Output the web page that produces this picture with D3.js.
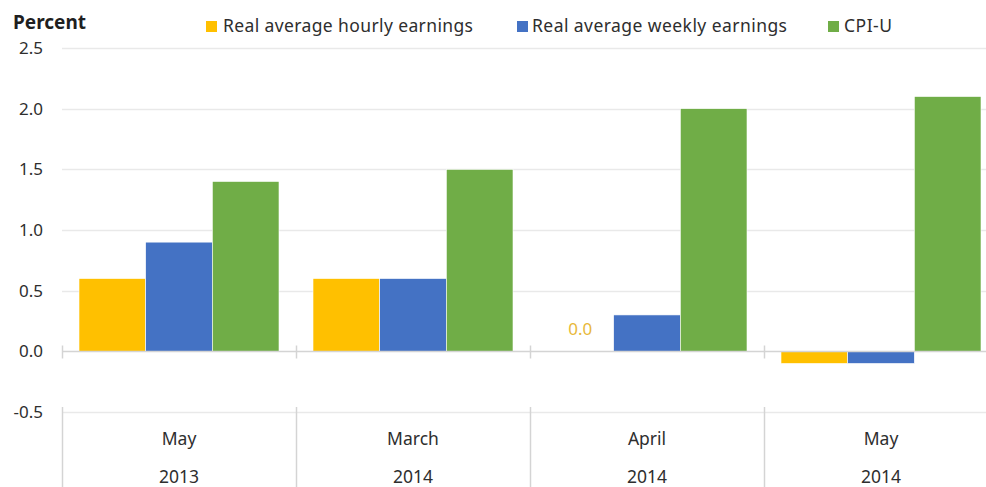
<!DOCTYPE html>
<html>
<head>
<meta charset="utf-8">
<script src="https://cdn.jsdelivr.net/npm/d3@7/dist/d3.min.js"></script>
<style>
  html, body { margin: 0; padding: 0; background: #fff; }
  svg { display: block; font-family: "Noto Sans", "Open Sans", sans-serif; }
</style>
</head>
<body>
<div id="chart"></div>
<script>
// Data
const months = ["May", "March", "April", "May"]
const years = ["2013", "2014", "2014", "2014"]
const seriesNames = ["Real average hourly earnings", "Real average weekly earnings", "CPI-U"]
const hourly = [0.6, 0.6, 0.0, -0.1]
const weekly = [0.9, 0.6, 0.3, -0.1]
const cpiu = [1.4, 1.5, 2.0, 2.1]
const yTicks = [-0.5, 0.0, 0.5, 1.0, 1.5, 2.0, 2.5]

const COLORS = ["#FFC000", "#4472C4", "#70AD47"]
const TEXT = "#2e2e2e"
const GRID = "#e9e9e9"
const AXIS = "#d4d4d4"

const W = 986, H = 487
const plot = { left: 62, right: 998, top: 48, bottom: 412 }

const svg = d3.select("#chart").append("svg")
  .attr("width", W).attr("height", H)

const y = d3.scaleLinear().domain([-0.5, 2.5]).range([plot.bottom, plot.top])
const groups = d3.range(months.length)
const x0 = d3.scaleBand().domain(groups).range([plot.left, plot.right])
const bw = x0.bandwidth()
const x1 = d3.scaleBand().domain(d3.range(seriesNames.length)).range([17, bw - 17])

const values = [hourly, weekly, cpiu]

// Gridlines (zero is drawn as the axis)
svg.append("g").selectAll("line")
  .data(yTicks.filter(t => t !== 0))
  .join("line")
  .attr("x1", plot.left).attr("x2", plot.right)
  .attr("y1", d => Math.round(y(d)) + 0.5).attr("y2", d => Math.round(y(d)) + 0.5)
  .attr("stroke", GRID).attr("stroke-width", 1.5)

// Y tick labels
svg.append("g").selectAll("text")
  .data(yTicks)
  .join("text")
  .attr("x", 43)
  .attr("y", d => y(d) + 6)
  .attr("text-anchor", "end")
  .attr("fill", TEXT)
  .attr("font-size", "17px")
  .text(d => d3.format(".1f")(d).replace("−", "-"))

// Bars
const bars = svg.append("g")
groups.forEach(gi => {
  values.forEach((vals, si) => {
    const v = vals[gi]
    if (v === 0) return
    bars.append("rect")
      .attr("x", x0(gi) + x1(si))
      .attr("width", x1.bandwidth())
      .attr("y", y(Math.max(0, v)))
      .attr("height", Math.abs(y(v) - y(0)))
      .attr("fill", COLORS[si])
      .attr("stroke", "#fff")
      .attr("stroke-width", 0.6)
  })
})

// Zero-value data label
groups.forEach(gi => {
  if (hourly[gi] === 0) {
    svg.append("text")
      .attr("x", x0(gi) + x1(0) + x1.bandwidth() / 2)
      .attr("y", y(0) - 16)
      .attr("text-anchor", "middle")
      .attr("fill", "#E8B83A")
      .attr("font-size", "17px")
      .text("0.0")
  }
})

// Zero axis line and ticks
const zy = Math.round(y(0)) + 0.5
svg.append("line")
  .attr("x1", plot.left).attr("x2", plot.right)
  .attr("y1", zy).attr("y2", zy)
  .attr("stroke", AXIS).attr("stroke-width", 1.5)
svg.append("g").selectAll("line")
  .data(groups)
  .join("line")
  .attr("x1", d => Math.round(x0(d)) + 0.5).attr("x2", d => Math.round(x0(d)) + 0.5)
  .attr("y1", zy - 6).attr("y2", zy + 7)
  .attr("stroke", AXIS).attr("stroke-width", 1.5)

// Category separators (multi-level axis)
svg.append("g").selectAll("line")
  .data(groups)
  .join("line")
  .attr("x1", d => Math.round(x0(d)) + 0.5).attr("x2", d => Math.round(x0(d)) + 0.5)
  .attr("y1", plot.bottom - 5).attr("y2", H)
  .attr("stroke", AXIS).attr("stroke-width", 1.5)

// Category labels
const cat = svg.append("g").attr("fill", TEXT).attr("font-size", "17.5px").attr("text-anchor", "middle")
cat.selectAll("text.month")
  .data(groups)
  .join("text")
  .attr("class", "month")
  .attr("x", d => x0(d) + bw / 2)
  .attr("y", 445)
  .text(d => months[d])
cat.selectAll("text.year")
  .data(groups)
  .join("text")
  .attr("class", "year")
  .attr("x", d => x0(d) + bw / 2)
  .attr("y", 483)
  .text(d => years[d])

// Title
svg.append("text")
  .attr("x", 13).attr("y", 29)
  .attr("fill", "#1f1f1f")
  .attr("font-size", "19px")
  .attr("font-weight", "bold")
  .text("Percent")

// Legend
const legendBox = [206, 517, 828]
const legendText = [223, 532, 844]
const legendLen = [250, 255, 48]
const legend = svg.append("g")
seriesNames.forEach((name, i) => {
  legend.append("rect")
    .attr("x", legendBox[i]).attr("y", 21)
    .attr("width", 11).attr("height", 11)
    .attr("fill", COLORS[i])
  legend.append("text")
    .attr("x", legendText[i]).attr("y", 32)
    .attr("fill", TEXT)
    .attr("font-size", "17.5px")
    .attr("textLength", legendLen[i])
    .attr("lengthAdjust", "spacing")
    .text(name)
})
</script>
</body>
</html>
